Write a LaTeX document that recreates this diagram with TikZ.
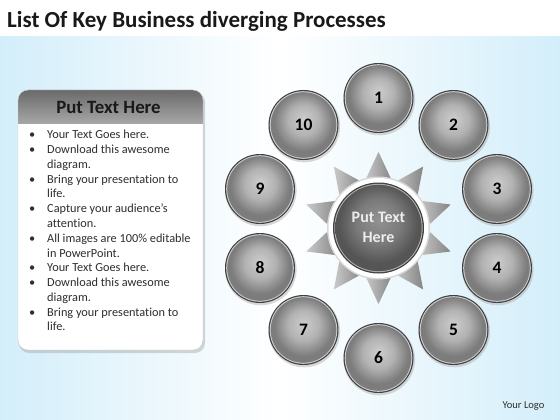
\documentclass[tikz,border=0pt]{standalone}
\usepackage{fontspec}
\setmainfont{Carlito}[Ligatures={NoCommon}]
\definecolor{bgblue}{HTML}{D3EEFA}
\definecolor{hdtop}{HTML}{6A6A6A}
\definecolor{hdbot}{HTML}{A6A6A6}
\definecolor{txtcol}{HTML}{2E2E2E}
\definecolor{ringdark}{HTML}{404040}
\definecolor{ringlight}{HTML}{CFCFCF}
\definecolor{bla}{HTML}{CDCDCD}
\definecolor{blb}{HTML}{B2B2B2}
\definecolor{blc}{HTML}{7C7C7C}
\definecolor{cba}{HTML}{929292}
\definecolor{cbb}{HTML}{7A7A7A}
\definecolor{cbc}{HTML}{555555}
\definecolor{trilight}{HTML}{CACACA}
\definecolor{tridark}{HTML}{848484}
\pgfdeclareradialshading{ballsh}{\pgfpoint{0bp}{5bp}}{color(0bp)=(bla); color(12bp)=(blb); color(23bp)=(blc); color(25bp)=(blc); color(50bp)=(blc)}
\pgfdeclareradialshading{hubsh}{\pgfpoint{0bp}{5bp}}{color(0bp)=(cba); color(13bp)=(cbb); color(23bp)=(cbc); color(25bp)=(cbc); color(50bp)=(cbc)}
\tikzset{
  bodytext/.style={anchor=base west, inner sep=0pt, text=txtcol, font=\fontsize{12.3}{14}\selectfont},
  numlabel/.style={inner sep=0pt, text=black, font=\fontsize{17.5}{20}\selectfont\bfseries},
}
\begin{document}
\begin{tikzpicture}[x=1pt,y=-1pt]
\useasboundingbox (0,0) rectangle (560,420);
% background
\fill[white] (0,0) rectangle (560,37);
\shade[left color=bgblue, right color=bgblue, middle color=white] (0,37) rectangle (560,420);
% title
\node[anchor=base west, inner sep=0pt, text=black!90, font=\fontsize{23}{26}\selectfont\bfseries] (title) at (7,28) {List Of Key Business diverging Processes};
% left panel
\fill[black!35, opacity=0.45, rounded corners=10pt] (19,92) rectangle (205,353);
\begin{scope}
  \clip[rounded corners=10pt] (18,90) rectangle (203,350);
  \fill[white] (18,90) rectangle (203,350);
  \shade[top color=hdtop, bottom color=hdbot] (18,90) rectangle (203,123);
\end{scope}
\draw[black!20, rounded corners=10pt] (18,90) rectangle (203,350);
\node[inner sep=0pt, text=black!90, font=\fontsize{18.8}{21}\selectfont\bfseries] (hdr) at (108.5,107) {Put Text Here};
\foreach \i/\b/\t in {0/1/Your Text Goes here., 1/1/Download this awesome, 2/0/diagram., 3/1/Bring your presentation to, 4/0/life., 5/1/Capture your audience’s, 6/0/attention., 7/1/All images are 100\% editable, 8/0/in PowerPoint., 9/1/Your Text Goes here., 10/1/Download this awesome, 11/0/diagram., 12/1/Bring your presentation to, 13/0/life.}{
  \node[bodytext] (line\i) at (47,{138.8+14.78*\i}) {\t};
  \ifnum\b=1 \node[bodytext] (bul\i) at (29,{138.8+14.78*\i}) {•};\fi
}
% star triangles
\def\cx{378.5}\def\cy{228}
\foreach \k in {0,...,9}{
  \pgfmathsetmacro{\a}{90-36*\k}
  \shade[left color=trilight, right color=tridark]
    ({\cx+76*cos(\a)},{\cy-76*sin(\a)}) --
    ({\cx+46*cos(\a)+14*sin(\a)},{\cy-46*sin(\a)+14*cos(\a)}) --
    ({\cx+46*cos(\a)-14*sin(\a)},{\cy-46*sin(\a)-14*cos(\a)}) -- cycle;
}
% hub
\fill[black!15] (\cx,\cy) circle (51.5);
\fill[white] (\cx,\cy) circle (50);
\fill[ringdark] (\cx,\cy) circle (45.5);
\fill[black!30] (\cx,\cy) circle (44.2);
\shade[shading=hubsh] (\cx,\cy) circle (43.2);
\node[inner sep=0pt, align=center, text=black!7, font=\fontsize{16}{19.5}\selectfont\bfseries] (hub) at (\cx,227.5) {Put Text\\Here};
% outer circles
\foreach \n/\x/\y in {1/378.5/98, 2/453.5/125, 3/497/189, 4/497/268, 5/453.5/330, 6/378.5/358, 7/303.5/330, 8/260/268, 9/260/189, 10/303.5/125}{
  \fill[black!30, opacity=0.5] ({\x+0.8},{\y+1.5}) circle (35.8);
  \fill[ringdark] (\x,\y) circle (35);
  \fill[ringlight] (\x,\y) circle (33.8);
  \fill[black!50] (\x,\y) circle (32.8);
  \shade[shading=ballsh] (\x,\y) circle (32.1);
  \node[numlabel] (c\n) at (\x,\y) {\n};
}
% logo
\node[inner sep=0pt, text=txtcol, font=\fontsize{10.5}{12}\selectfont] (logo) at (523.5,406) {Your Logo};
\end{tikzpicture}
\end{document}
